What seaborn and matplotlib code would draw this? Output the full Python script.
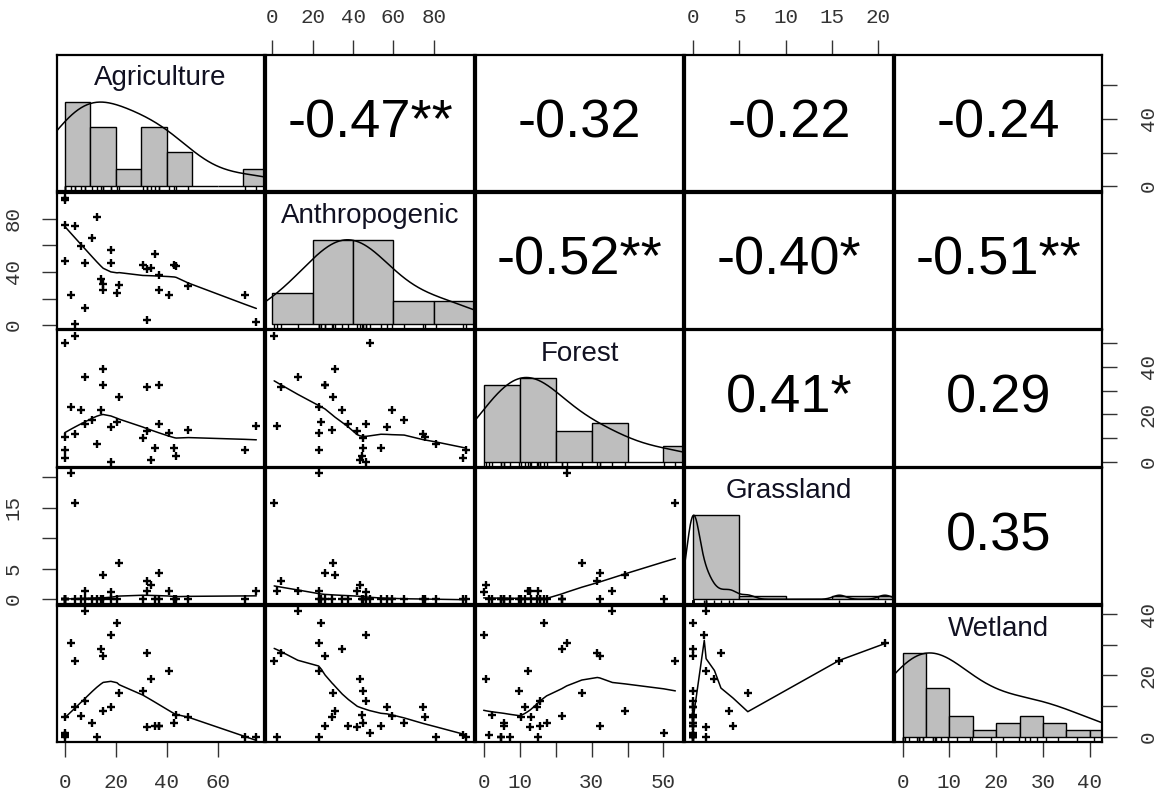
import numpy as np
import pandas as pd
import matplotlib
matplotlib.use("Agg")
import matplotlib.pyplot as plt
import seaborn as sns

# -----------------------------
# DATA (land cover %, one value per site)
# -----------------------------
agriculture = [0.0, 0.2, 0.2, 0.2, 2.6, 4.1, 4.1, 6.3, 8.0, 8.0, 10.9, 12.6, 14.2, 15.1, 15.1, 18.1,
               18.1, 20.5, 21.4, 30.6, 32.1, 32.1, 33.8, 35.3, 36.8, 36.8, 40.8, 43.0, 43.7, 48.5, 70.5, 75.1]
anthropogenic = [94.3, 95.8, 48.2, 75.6, 23.0, 1.0, 74.4, 59.2, 12.7, 46.5, 65.3, 81.0, 34.7, 31.1, 26.2, 56.8,
                 46.5, 24.2, 30.3, 45.0, 4.2, 42.1, 43.3, 53.8, 26.2, 37.7, 23.0, 45.0, 44.5, 29.8, 23.0, 2.4]
forest = [1.4, 4.9, 50.1, 10.5, 23.1, 53.3, 11.5, 21.7, 35.8, 15.8, 17.5, 7.4, 21.7, 39.3, 32.3, 14.7,
          0.0, 16.8, 27.3, 9.8, 31.6, 12.9, 0.7, 5.6, 32.3, 15.7, 12.2, 5.6, 2.4, 13.2, 4.9, 15.0]
grassland = [0.0, 0.0, 0.0, 0.0, 20.7, 15.8, 0.0, 0.0, 1.4, 0.0, 0.0, 0.0, 0.0, 3.9, 0.0, 0.0,
             1.2, 0.0, 5.9, 0.0, 3.0, 1.4, 2.3, 0.0, 4.3, 0.0, 1.4, 0.0, 0.0, 0.0, 0.0, 1.4]
wetland = [0.6, 0.0, 1.3, 6.4, 30.6, 24.8, 9.7, 6.9, 41.0, 11.7, 4.4, 0.0, 28.7, 8.3, 26.2, 9.6,
           33.3, 37.2, 14.3, 14.9, 27.3, 3.1, 18.8, 3.6, 3.6, 3.6, 21.5, 4.4, 7.1, 6.4, 0.0, 0.0]

variables = ["Agriculture", "Anthropogenic", "Forest", "Grassland", "Wetland"]

# correlation labels shown in the upper panels (row, col)
cor_labels = {
    (0, 1): "-0.47**", (0, 2): "-0.32", (0, 3): "-0.22", (0, 4): "-0.24",
    (1, 2): "-0.52**", (1, 3): "-0.40*", (1, 4): "-0.51**",
    (2, 3): "0.41*", (2, 4): "0.29",
    (3, 4): "0.35",
}

# histogram breaks per variable
hist_breaks = {
    "Agriculture": np.arange(0, 81, 10),
    "Anthropogenic": np.arange(0, 101, 20),
    "Forest": np.arange(0, 61, 10),
    "Grassland": np.arange(0, 26, 5),
    "Wetland": np.arange(0, 46, 5),
}

# axis ticks and which labels survive (R drops overlapping ones)
x_ticks = {
    "Agriculture": ([0, 20, 40, 60], ["0", "20", "40", "60"]),
    "Anthropogenic": ([0, 20, 40, 60, 80], ["0", "20", "40", "60", "80"]),
    "Forest": ([0, 10, 20, 30, 40, 50], ["0", "10", "", "30", "", "50"]),
    "Grassland": ([0, 5, 10, 15, 20], ["0", "5", "10", "15", "20"]),
    "Wetland": ([0, 10, 20, 30, 40], ["0", "10", "20", "30", "40"]),
}
y_ticks = {
    "Agriculture": ([0, 20, 40, 60], ["0", "", "40", ""]),
    "Anthropogenic": ([0, 20, 40, 60, 80], ["0", "", "40", "", "80"]),
    "Forest": ([0, 10, 20, 30, 40, 50], ["0", "", "20", "", "40", ""]),
    "Grassland": ([0, 5, 10, 15, 20], ["0", "5", "", "15", ""]),
    "Wetland": ([0, 10, 20, 30, 40], ["0", "", "20", "", "40"]),
}

df = pd.DataFrame({
    "Agriculture": agriculture,
    "Anthropogenic": anthropogenic,
    "Forest": forest,
    "Grassland": grassland,
    "Wetland": wetland,
})

# -----------------------------
# HELPERS
# -----------------------------
def lowess(x, y, f=2 / 3, iters=3):
    """Plain lowess like R's panel.smooth (tricube + bisquare robustness)."""
    x = np.asarray(x, float)
    y = np.asarray(y, float)
    order = np.argsort(x, kind="mergesort")
    x, y = x[order], y[order]
    n = len(x)
    k = int(np.ceil(f * n))
    rw = np.ones(n)
    fit = np.zeros(n)
    for it in range(iters + 1):
        for i in range(n):
            d = np.abs(x - x[i])
            h = max(np.sort(d)[k - 1], 1e-9)
            u = np.clip(d / h, 0, 1)
            w = (1 - u ** 3) ** 3 * rw
            sw = w.sum()
            xm = (w * x).sum() / sw
            ym = (w * y).sum() / sw
            sxx = (w * (x - xm) ** 2).sum()
            b = (w * (x - xm) * (y - ym)).sum() / sxx if sxx > 1e-9 else 0.0
            fit[i] = ym + b * (x[i] - xm)
        res = y - fit
        s = np.median(np.abs(res))
        if s < 1e-9:
            break
        u = np.clip(res / (6 * s), -1, 1)
        rw = (1 - u ** 2) ** 2
    return x, fit


def padded(v):
    lo, hi = np.min(v), np.max(v)
    r = hi - lo
    return lo - 0.04 * r, hi + 0.04 * r


def bw_nrd0(v):
    v = np.asarray(v, float)
    sd = v.std(ddof=1)
    iqr = np.subtract(*np.percentile(v, [75, 25]))
    lo = min(sd, iqr / 1.34) if iqr > 0 else sd
    return 0.9 * lo * len(v) ** (-0.2)


def density_curve(v, adjust=1.5):
    """Gaussian kernel density on R's default grid (range +- 3 bw)."""
    v = np.asarray(v, float)
    bw = bw_nrd0(v) * adjust
    grid = np.linspace(v.min() - 3 * bw, v.max() + 3 * bw, 512)
    z = (grid[:, None] - v[None, :]) / bw
    dens = np.exp(-0.5 * z ** 2).sum(axis=1) / (len(v) * bw * np.sqrt(2 * np.pi))
    return grid, dens


# -----------------------------
# FIGURE
# -----------------------------
sns.set_style("white")
plt.rcParams["font.family"] = ["Liberation Sans", "DejaVu Sans"]

tick_font = {"family": "Liberation Mono", "size": 15, "color": "#333333"}
TICK_LEN = 10.5

fig, axes = plt.subplots(
    5, 5, figsize=(11.56, 7.94), dpi=100,
    gridspec_kw=dict(left=0.0493, right=0.9533, top=0.9307, bottom=0.0655,
                     wspace=0.012, hspace=0.012),
)

limits = {v: padded(df[v]) for v in variables}

for i, yv in enumerate(variables):
    for j, xv in enumerate(variables):
        ax = axes[i, j]
        ax.set_xlim(limits[xv])
        ax.set_ylim(limits[yv])

        if i > j:
            # lower panels: points + lowess
            sns.scatterplot(x=df[xv], y=df[yv], ax=ax, marker="+", s=30,
                            color="black", linewidth=1.7, legend=False)
            sx, sy = lowess(df[xv], df[yv])
            ax.plot(sx, sy, color="black", lw=1.1)
        elif i < j:
            ax.text(0.5, 0.5, cor_labels[(i, j)], transform=ax.transAxes,
                    ha="center", va="center", fontsize=39, color="black")
        else:
            # diagonal: histogram, density (scaled to the tallest bar), rug, name
            vals = df[xv].to_numpy()
            dens, _ = np.histogram(vals, bins=hist_breaks[xv], density=True)
            top = 1.5 * dens.max()
            ax.set_ylim(-0.04 * top, 1.04 * top)
            sns.histplot(x=vals, bins=hist_breaks[xv], stat="density", ax=ax,
                         color="#bebebe", edgecolor="black", linewidth=1.0, alpha=1)
            gx, gy = density_curve(vals)
            ax.plot(gx, gy * dens.max() / gy.max(), color="black", lw=1.1)
            sns.rugplot(x=vals, ax=ax, height=0.035, color="black", lw=1)
            ax.text(0.5, 0.83, xv, transform=ax.transAxes, ha="center",
                    va="center", fontsize=20, color="#111122")
            ax.set_xlim(limits[xv])

        ax.set_xlabel("")
        ax.set_ylabel("")
        ax.set_xticks([])
        ax.set_yticks([])
        for sp in ax.spines.values():
            sp.set_visible(True)
            sp.set_color("black")
            sp.set_linewidth(1.6)

# outer axes in the R pairs pattern
for j, v in enumerate(variables):
    ticks, labels = x_ticks[v]
    if j % 2 == 0:
        ax = axes[4, j]
        ax.set_xticks(ticks)
        ax.set_xticklabels(labels, fontdict=tick_font)
        ax.tick_params(axis="x", bottom=True, labelbottom=True, direction="out",
                       length=TICK_LEN, width=1, pad=12, color="#333333")
    else:
        ax = axes[0, j]
        ax.set_xticks(ticks)
        ax.set_xticklabels(labels, fontdict=tick_font)
        ax.tick_params(axis="x", top=True, labeltop=True, bottom=False,
                       labelbottom=False, direction="out", length=TICK_LEN,
                       width=1, pad=10, color="#333333")

for i, v in enumerate(variables):
    ticks, labels = y_ticks[v]
    if i % 2 == 1:
        ax = axes[i, 0]
        ax.set_yticks(ticks)
        ax.set_yticklabels(labels, fontdict=tick_font, rotation=90, va="center")
        ax.tick_params(axis="y", left=True, labelleft=True, direction="out",
                       length=TICK_LEN, width=1, pad=14, color="#333333")
    else:
        ax = axes[i, 4]
        if i == 4:
            # diagonal panel carries density; add a twin for the Wetland scale
            ax = ax.twinx()
            ax.set_ylim(limits[v])
            for sp in ax.spines.values():
                sp.set_visible(False)
        ax.set_yticks(ticks)
        ax.set_yticklabels(labels, fontdict=tick_font, rotation=90, va="center")
        ax.tick_params(axis="y", right=True, labelright=True, left=False,
                       labelleft=False, direction="out", length=TICK_LEN,
                       width=1, pad=16, color="#333333")

fig.savefig("out.png", dpi=100, facecolor="white")
